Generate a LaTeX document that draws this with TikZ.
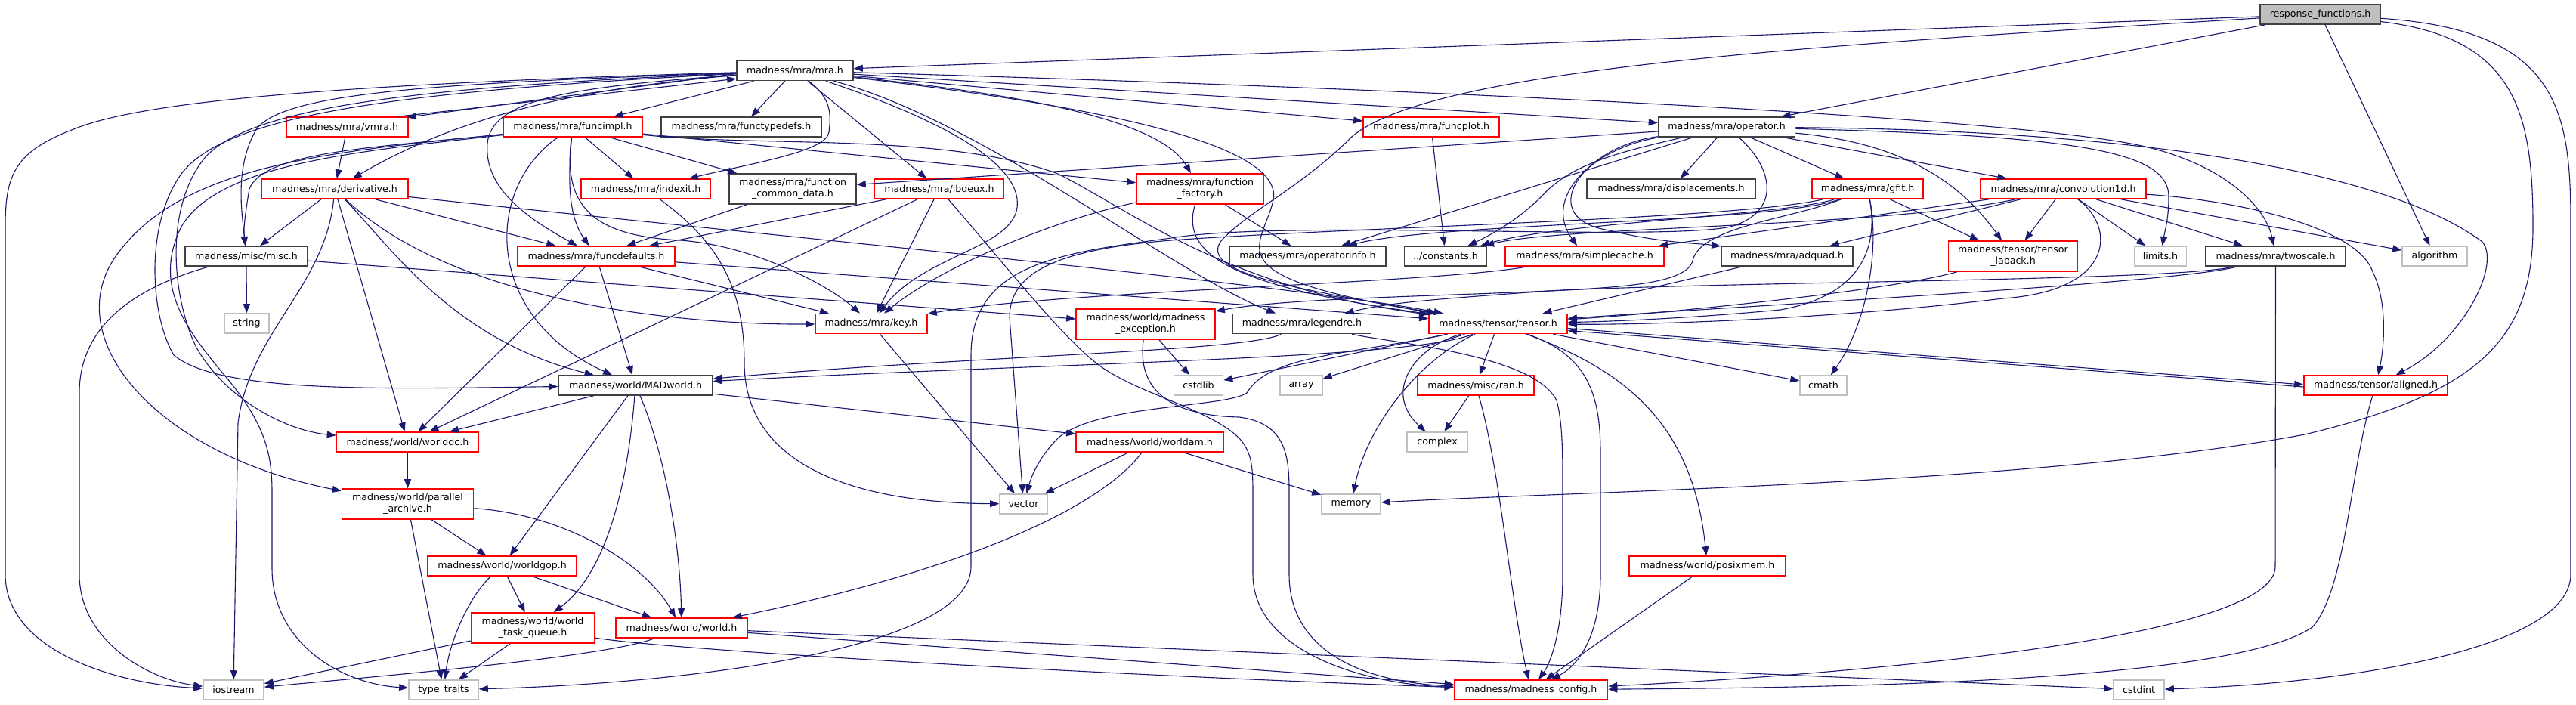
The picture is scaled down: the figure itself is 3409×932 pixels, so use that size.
\documentclass[tikz,border=0pt]{standalone}
\usepackage{fontspec}
\setmainfont{DejaVu Sans}
\usetikzlibrary{arrows.meta}
\definecolor{edgec}{HTML}{191970}
\definecolor{redb}{HTML}{FF0000}
\definecolor{greyb}{HTML}{BFBFBF}
\definecolor{blackb}{HTML}{404040}
\newcommand\nfnt{\fontsize{12.6pt}{15pt}\selectfont}
\tikzset{
 nb/.style={draw, rectangle, line width=1.6pt, fill=white, inner sep=0pt, minimum height=26pt, align=center, font=\nfnt, text=black},
 rb/.style={nb, draw=redb},
 kb/.style={nb, draw=blackb},
 gb/.style={nb, draw=greyb},
 tall/.style={minimum height=40pt},
 rootb/.style={nb, draw=blackb, fill=greyb},
 dep/.style={draw=edgec, line width=1.1pt, -{Triangle[length=12pt,width=9pt]}},
}
\begin{document}
\begin{tikzpicture}[x=1pt,y=-1pt]
\fill[white] (0,0) rectangle (3409,932);
\useasboundingbox (0,0) rectangle (3409,932);
% nodes
\node[rootb, minimum width=159pt] (rf) at (3070.5,19) {response\_functions.h};
\node[kb, minimum width=154pt] (mra) at (1052,93.5) {madness/mra/mra.h};
\node[rb, minimum width=161pt] (vmra) at (459.5,168) {madness/mra/vmra.h};
\node[rb, minimum width=184pt] (funcimpl) at (758,168) {madness/mra/funcimpl.h};
\node[kb, minimum width=212pt] (functypedefs) at (981,168) {madness/mra/functypedefs.h};
\node[rb, minimum width=180pt] (funcplot) at (1894,168) {madness/mra/funcplot.h};
\node[kb, minimum width=181pt] (operator) at (2285,168) {madness/mra/operator.h};
\node[rb, minimum width=194pt] (derivative) at (443,250) {madness/mra/derivative.h};
\node[rb, minimum width=171pt] (indexit) at (854.5,250) {madness/mra/indexit.h};
\node[kb, tall, minimum width=168pt] (fcd) at (1049,250) {madness/mra/function\\\_common\_data.h};
\node[rb, minimum width=171pt] (lbdeux) at (1243,250) {madness/mra/lbdeux.h};
\node[rb, tall, minimum width=168pt] (ffactory) at (1588,250) {madness/mra/function\\\_factory.h};
\node[kb, minimum width=223pt] (displacements) at (2211.5,250) {madness/mra/displacements.h};
\node[rb, minimum width=147pt] (gfit) at (2471.5,250) {madness/mra/gfit.h};
\node[rb, minimum width=219pt] (conv) at (2730.5,250) {madness/mra/convolution1d.h};
\node[kb, minimum width=162pt] (misc) at (326,339) {madness/misc/misc.h};
\node[rb, minimum width=208pt] (funcdefaults) at (789,339) {madness/mra/funcdefaults.h};
\node[kb, minimum width=207pt] (operatorinfo) at (1730.5,339) {madness/mra/operatorinfo.h};
\node[kb, minimum width=109pt] (constants) at (1913,339) {../constants.h};
\node[rb, minimum width=210pt] (simplecache) at (2097,339) {madness/mra/simplecache.h};
\node[kb, minimum width=174pt] (adquad) at (2365,339) {madness/mra/adquad.h};
\node[rb, tall, minimum width=171pt] (lapack) at (2664,339) {madness/tensor/tensor\\\_lapack.h};
\node[gb, minimum width=69pt] (limits) at (2859,339) {limits.h};
\node[kb, minimum width=185pt] (twoscale) at (3011.5,339) {madness/mra/twoscale.h};
\node[gb, minimum width=86pt] (algorithm) at (3222,339) {algorithm};
\node[gb, minimum width=59pt] (string) at (326.5,428) {string};
\node[rb, minimum width=148pt] (key) at (1153,428.5) {madness/mra/key.h};
\node[rb, tall, minimum width=184pt] (mexc) at (1516,429) {madness/world/madness\\\_exception.h};
\node[kb, minimum width=183pt] (legendre) at (1723,428.5) {madness/mra/legendre.h};
\node[rb, minimum width=183pt] (tensor) at (1982.5,428.5) {madness/tensor/tensor.h};
\node[kb, minimum width=204pt] (madworld) at (841,510) {madness/world/MADworld.h};
\node[gb, minimum width=65pt] (cstdlib) at (1586,510) {cstdlib};
\node[gb, minimum width=56pt] (array) at (1722,510) {array};
\node[rb, minimum width=154pt] (ran) at (1953,510) {madness/misc/ran.h};
\node[gb, minimum width=62pt] (cmath) at (2413,510) {cmath};
\node[rb, minimum width=190pt] (aligned) at (3144,510) {madness/tensor/aligned.h};
\node[rb, minimum width=188pt] (worlddc) at (539.5,585) {madness/world/worlddc.h};
\node[rb, minimum width=195pt] (worldam) at (1521.5,585) {madness/world/worldam.h};
\node[gb, minimum width=80pt] (complex) at (1902,585) {complex};
\node[rb, tall, minimum width=174pt] (parallel) at (539.5,667) {madness/world/parallel\\\_archive.h};
\node[gb, minimum width=63pt] (vector) at (1354.5,667) {vector};
\node[gb, minimum width=78pt] (memory) at (1788,667) {memory};
\node[rb, minimum width=197pt] (worldgop) at (664.5,749) {madness/world/worldgop.h};
\node[rb, minimum width=207pt] (posixmem) at (2259.5,749) {madness/world/posixmem.h};
\node[rb, tall, minimum width=163pt] (taskq) at (705,831) {madness/world/world\\\_task\_queue.h};
\node[rb, minimum width=174pt] (world) at (902,831) {madness/world/world.h};
\node[gb, minimum width=80pt] (iostream) at (309,913) {iostream};
\node[gb, minimum width=92pt] (typetraits) at (587,913) {type\_traits};
\node[rb, minimum width=203pt] (config) at (2026,913) {madness/madness\_config.h};
\node[gb, minimum width=67pt] (cstdint) at (2830.5,913) {cstdint};

% response_functions.h
\draw[dep] (rf) -- (mra);
\draw[dep] (rf) -- (operator);
\draw[dep] (rf) -- (algorithm);
\draw[dep] (rf) .. controls (3330,50) and (3352,150) .. (3352,300) .. controls (3352,450) and (3280,520) .. (3050,575) .. controls (2700,640) and (2100,650) .. (memory);
\draw[dep] (rf) .. controls (3390,40) and (3402,150) .. (3402,300) -- (3402,760) .. controls (3402,860) and (3100,905) .. (cstdint);
\draw[dep] (rf) .. controls (2400,60) and (1900,90) .. (1790,180) .. controls (1720,250) and (1650,280) .. (1615,320) .. controls (1590,360) and (1700,380) .. (tensor);

% mra.h
\draw[dep] ([yshift=-4pt]mra.west) -- ([xshift=-2pt,yshift=-1pt]vmra.north east);
\draw[dep] ([xshift=-14pt]vmra.north east) -- ([yshift=3pt]mra.south west);
\draw[dep] (mra) -- (funcimpl);
\draw[dep] (mra) -- (functypedefs);
\draw[dep] (mra) -- (funcplot);
\draw[dep] (mra) -- (operator);
\draw[dep] (mra) .. controls (720,120) and (580,170) .. (derivative);
\draw[dep] (mra) .. controls (1100,130) and (1100,150) .. (1097,175) .. controls (1094,200) and (1000,215) .. (indexit);
\draw[dep] (mra) -- (lbdeux);
\draw[dep] (mra) .. controls (1300,120) and (1530,150) .. (ffactory);
\draw[dep] (mra) .. controls (760,115) and (650,130) .. (645,190) .. controls (640,250) and (700,290) .. (funcdefaults);
\draw[dep] (mra) .. controls (1250,160) and (1360,220) .. (1345,280) .. controls (1330,330) and (1220,340) .. (key);
\draw[dep] (mra) .. controls (1300,160) and (1550,360) .. (legendre);
\draw[dep] (mra) .. controls (1450,140) and (1700,190) .. (1685,265) .. controls (1670,330) and (1600,365) .. (tensor);
\draw[dep] (mra) .. controls (1800,115) and (2600,150) .. (2820,190) .. controls (2950,215) and (3000,280) .. (twoscale);
\draw[dep] (mra) .. controls (600,110) and (380,120) .. (340,170) .. controls (310,220) and (320,280) .. (misc);
\draw[dep] (mra) .. controls (500,110) and (200,130) .. (100,170) .. controls (20,200) and (7,230) .. (7,300) -- (7,760) .. controls (7,860) and (150,905) .. (iostream);
\draw[dep] (mra) .. controls (560,115) and (330,140) .. (270,210) .. controls (215,280) and (230,400) .. (260,460) .. controls (300,530) and (380,570) .. (worlddc);
\draw[dep] (mra) .. controls (540,120) and (300,150) .. (240,230) .. controls (190,300) and (200,420) .. (230,470) .. controls (290,520) and (500,515) .. (madworld);

% vmra.h
\draw[dep] (vmra) -- (derivative);

% funcimpl.h
\draw[dep] (funcimpl) -- (indexit);
\draw[dep] (funcimpl) -- (fcd);
\draw[dep] (funcimpl) -- (ffactory);
\draw[dep] (funcimpl) .. controls (750,250) and (755,290) .. (funcdefaults);
\draw[dep] (funcimpl) .. controls (500,195) and (350,200) .. (330,250) .. controls (325,280) and (322,300) .. (misc);
\draw[dep] (funcimpl) .. controls (450,200) and (250,215) .. (160,330) .. controls (70,440) and (200,600) .. (parallel);
\draw[dep] (funcimpl) .. controls (480,200) and (290,215) .. (240,300) .. controls (200,380) and (250,440) .. (300,500) .. controls (350,560) and (360,600) .. (360,650) -- (360,752) .. controls (360,850) and (450,905) .. (typetraits);
\draw[dep] (funcimpl) .. controls (640,250) and (640,420) .. (madworld);
\draw[dep] (funcimpl) .. controls (745,270) and (780,312) .. (900,318) .. controls (1000,325) and (1100,380) .. (key);
\draw[dep] (funcimpl) .. controls (1000,195) and (1250,175) .. (1400,230) .. controls (1500,280) and (1620,380) .. (tensor);

% derivative.h
\draw[dep] (derivative) -- (misc);
\draw[dep] (derivative) .. controls (430,380) and (330,440) .. (315,560) -- (iostream);
\draw[dep] (derivative) -- (worlddc);
\draw[dep] (derivative) .. controls (520,330) and (600,450) .. (madworld);
\draw[dep] (derivative) -- (funcdefaults);
\draw[dep] (derivative) .. controls (600,400) and (900,430) .. (key);
\draw[dep] (derivative) .. controls (1000,310) and (1700,375) .. (tensor);

% indexit, fcd, lbdeux, ffactory
\draw[dep] (indexit) .. controls (950,320) and (985,380) .. (985,480) .. controls (985,600) and (1100,665) .. (vector);
\draw[dep] (fcd) -- (funcdefaults);
\draw[dep] (lbdeux) -- (funcdefaults);
\draw[dep] (lbdeux) -- (key);
\draw[dep] (lbdeux) -- (worlddc);
\draw[dep] (lbdeux) .. controls (1330,350) and (1400,440) .. (1450,480) .. controls (1500,520) and (1600,540) .. (1640,580) .. controls (1658,600) and (1658,620) .. (1658,660) -- (1658,760) .. controls (1658,860) and (1800,905) .. (config);
\draw[dep] (ffactory) -- (operatorinfo);
\draw[dep] (ffactory) .. controls (1400,290) and (1250,350) .. (key);
\draw[dep] (ffactory) .. controls (1560,340) and (1640,380) .. (tensor);
\draw[dep] (funcplot) -- (constants);

% misc, funcdefaults, key
\draw[dep] (misc) -- (string);
\draw[dep] (misc) .. controls (180,380) and (105,430) .. (105,520) -- (105,760) .. controls (105,850) and (200,900) .. (iostream);
\draw[dep] (misc) -- (mexc);
\draw[dep] (funcdefaults) -- (key);
\draw[dep] (funcdefaults) -- (tensor);
\draw[dep] (funcdefaults) -- (worlddc);
\draw[dep] (funcdefaults) -- (madworld);
\draw[dep] (key) -- (vector);

% madness_exception, legendre
\draw[dep] (mexc) -- (cstdlib);
\draw[dep] (mexc) .. controls (1505,510) and (1540,550) .. (1640,552) .. controls (1700,560) and (1706,600) .. (1706,650) -- (1706,760) .. controls (1706,860) and (1800,902) .. (config);
\draw[dep] (legendre) .. controls (1650,465) and (1300,470) .. (madworld);
\draw[dep] (legendre) .. controls (1850,455) and (2030,470) .. (2060,530) .. controls (2068,560) and (2068,600) .. (2068,650) -- (2068,760) .. controls (2068,840) and (2050,880) .. (config);

% operator.h
\draw[dep] (operator) -- (fcd);
\draw[dep] (operator) -- (operatorinfo);
\draw[dep] (operator) .. controls (2150,200) and (2080,215) .. (2040,260) .. controls (2010,290) and (1975,310) .. (constants);
\draw[dep] (operator) .. controls (2110,195) and (2040,260) .. (simplecache);
\draw[dep] (operator) .. controls (2090,195) and (2030,290) .. (2130,305) .. controls (2200,322) and (2250,322) .. (adquad);
\draw[dep] (operator) -- (displacements);
\draw[dep] (operator) -- (gfit);
\draw[dep] (operator) -- (conv);
\draw[dep] (operator) .. controls (2530,190) and (2600,250) .. (lapack);
\draw[dep] (operator) .. controls (2750,180) and (2870,200) .. (2870,260) .. controls (2870,290) and (2865,305) .. (limits);
\draw[dep] (operator) .. controls (2800,172) and (3150,220) .. (3285,320) .. controls (3310,350) and (3260,450) .. (aligned);
\draw[dep] (operator) .. controls (2345,220) and (2360,280) .. (2290,300) .. controls (2200,320) and (1700,290) .. (1550,315) .. controls (1400,335) and (1285,350) .. (1285,470) -- (1285,750) .. controls (1285,860) and (900,905) .. (typetraits);

% gfit.h
\draw[dep] (gfit) .. controls (2360,285) and (2060,295) .. (constants);
\draw[dep] (gfit) .. controls (2350,295) and (1900,295) .. (operatorinfo);
\draw[dep] (gfit) .. controls (2485,320) and (2470,390) .. (2356,410) .. controls (2250,420) and (2150,425) .. (tensor);
\draw[dep] (gfit) -- (lapack);
\draw[dep] (gfit) .. controls (2488,330) and (2470,430) .. (cmath);
\draw[dep] (gfit) .. controls (2370,290) and (2250,300) .. (2240,345) .. controls (2232,375) and (2150,380) .. (2050,385) .. controls (1900,392) and (1700,395) .. (mexc);
\draw[dep] (gfit) .. controls (2300,290) and (1800,300) .. (1550,318) .. controls (1400,330) and (1336,360) .. (1336,420) -- (vector);

% convolution1d.h
\draw[dep] (conv) .. controls (2500,300) and (2060,300) .. (constants);
\draw[dep] (conv) -- (simplecache);
\draw[dep] (conv) -- (adquad);
\draw[dep] (conv) -- (lapack);
\draw[dep] (conv) -- (limits);
\draw[dep] (conv) -- (twoscale);
\draw[dep] (conv) -- (algorithm);
\draw[dep] (conv) .. controls (2960,265) and (3120,300) .. (3140,360) .. controls (3160,400) and (3155,460) .. (aligned);
\draw[dep] (conv) .. controls (2800,300) and (2800,385) .. (2650,395) .. controls (2450,420) and (2200,430) .. (tensor);

% adquad, lapack, twoscale, simplecache
\draw[dep] (adquad) -- (tensor);
\draw[dep] (lapack) .. controls (2500,385) and (2200,415) .. (tensor);
\draw[dep] (twoscale) .. controls (2880,375) and (2300,405) .. (tensor);
\draw[dep] (twoscale) .. controls (2880,372) and (2300,372) .. (2050,385) .. controls (1900,396) and (1840,400) .. (legendre);
\draw[dep] (twoscale) -- (3011,750) .. controls (3011,850) and (2400,895) .. (config);
\draw[dep] (simplecache) .. controls (1900,375) and (1400,385) .. (key);

% tensor.h
\draw[dep] (tensor) .. controls (1870,475) and (1400,480) .. (madworld);
\draw[dep] (tensor) -- (cstdlib);
\draw[dep] (tensor) -- (array);
\draw[dep] (tensor) -- (ran);
\draw[dep] (tensor) .. controls (1870,460) and (1830,520) .. (complex);
\draw[dep] (tensor) .. controls (1880,475) and (1810,560) .. (memory);
\draw[dep] (tensor) .. controls (1780,470) and (1680,470) .. (1650,520) .. controls (1620,540) and (1450,535) .. (1400,580) .. controls (1375,605) and (1365,630) .. (vector);
\draw[dep] (tensor) -- (cmath);
\draw[dep] (tensor) .. controls (2150,490) and (2240,560) .. (posixmem);
\draw[dep] (tensor) .. controls (2100,470) and (2118,520) .. (2118,600) -- (2118,760) .. controls (2118,840) and (2090,880) .. (config);
\draw[dep] ([yshift=-6pt]tensor.east) -- ([yshift=1pt]aligned.west);
\draw[dep] ([yshift=-2pt]aligned.west) -- ([yshift=-9pt]tensor.east);

% aligned, ran, posixmem
\draw[dep] (aligned) .. controls (3110,620) and (3105,780) .. (3060,830) .. controls (2950,905) and (2400,910) .. (config);
\draw[dep] (ran) -- (complex);
\draw[dep] (ran) .. controls (1985,620) and (2000,800) .. (config);
\draw[dep] (posixmem) -- (config);

% world layer
\draw[dep] (madworld) -- (worlddc);
\draw[dep] (madworld) -- (worldam);
\draw[dep] (madworld) -- (worldgop);
\draw[dep] (madworld) .. controls (830,650) and (800,760) .. (taskq);
\draw[dep] (madworld) .. controls (880,600) and (900,720) .. (world);
\draw[dep] (worlddc) -- (parallel);
\draw[dep] (parallel) -- (worldgop);
\draw[dep] (parallel) .. controls (740,680) and (850,740) .. (world);
\draw[dep] (parallel) -- (typetraits);
\draw[dep] (worldgop) -- (taskq);
\draw[dep] (worldgop) -- (world);
\draw[dep] (worldgop) .. controls (620,790) and (595,850) .. (typetraits);
\draw[dep] (worldam) -- (vector);
\draw[dep] (worldam) -- (memory);
\draw[dep] (worldam) .. controls (1450,680) and (1250,760) .. (world);
\draw[dep] (taskq) -- (iostream);
\draw[dep] (taskq) -- (typetraits);
\draw[dep] (taskq) .. controls (900,862) and (1500,895) .. (config);
\draw[dep] (world) .. controls (800,870) and (500,895) .. (iostream);
\draw[dep] (world) -- (config);
\draw[dep] (world) -- (cstdint);
\end{tikzpicture}
\end{document}
